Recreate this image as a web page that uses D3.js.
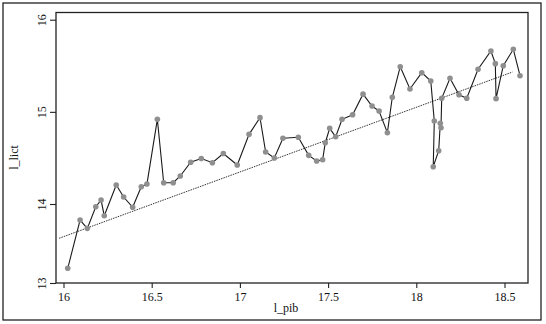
<!DOCTYPE html>
<html>
<head>
<meta charset="utf-8">
<script src="https://cdn.jsdelivr.net/npm/d3@7"></script>
<style>
  body { margin: 0; background: #fff; }
  text { font-family: "Liberation Serif", "DejaVu Serif", serif; fill: #111; }
</style>
</head>
<body>
<svg id="chart"></svg>
<script>
// l_pib / l_lict observations, in plot order
const pib = [16.024, 16.094, 16.135, 16.183, 16.213, 16.231, 16.299, 16.341, 16.392, 16.441,
    16.473, 16.532, 16.568, 16.622, 16.662, 16.721, 16.781, 16.844, 16.906, 16.985,
    17.052, 17.114, 17.146, 17.195, 17.244, 17.331, 17.390, 17.435, 17.469, 17.484,
    17.509, 17.543, 17.579, 17.639, 17.698, 17.749, 17.789, 17.836, 17.864, 17.909,
    17.964, 18.031, 18.082, 18.102, 18.096, 18.127, 18.136, 18.140, 18.144, 18.191,
    18.242, 18.286, 18.350, 18.423, 18.448, 18.452, 18.493, 18.550, 18.588];
const lict = [13.186, 13.797, 13.692, 13.966, 14.043, 13.852, 14.206, 14.076, 13.958, 14.188,
    14.217, 14.919, 14.231, 14.231, 14.304, 14.453, 14.494, 14.448, 14.548, 14.423,
    14.756, 14.937, 14.564, 14.499, 14.713, 14.724, 14.528, 14.467, 14.481, 14.665,
    14.821, 14.730, 14.919, 14.969, 15.192, 15.063, 15.009, 14.774, 15.158, 15.490,
    15.248, 15.425, 15.335, 14.901, 14.405, 14.578, 14.876, 14.828, 15.147, 15.364,
    15.186, 15.147, 15.462, 15.660, 15.523, 15.143, 15.501, 15.679, 15.392];

// linear fit (dotted line) end points
const fitX = [15.975, 18.545];
const fitY = [13.566, 15.432];

const xTicks = [16, 16.5, 17, 17.5, 18, 18.5];
const yTicks = [13, 14, 15, 16];

const width = 546, height = 324;
const plot = { left: 56, right: 528, top: 12.5, bottom: 283 };

const svg = d3.select("#chart")
    .attr("width", width)
    .attr("height", height);

// outer frame
svg.append("rect")
    .attr("x", 3).attr("y", 3)
    .attr("width", 538).attr("height", 317)
    .attr("fill", "none")
    .attr("stroke", "#222")
    .attr("stroke-width", 1.3);

const x = d3.scaleLinear()
    .domain([16, 18.5])
    .range([63.5, 504.5]);

// the y axis of the original is squeezed below 14
const y = d3.scaleLinear()
    .domain([13, 14, 16])
    .range([plot.bottom, 204, 19.7]);

// plot region box
svg.append("rect")
    .attr("x", plot.left).attr("y", plot.top)
    .attr("width", plot.right - plot.left)
    .attr("height", plot.bottom - plot.top)
    .attr("fill", "#fff")
    .attr("stroke", "#222")
    .attr("stroke-width", 1.3);

// axes
const xAxis = svg.append("g")
    .attr("transform", `translate(0,${plot.bottom})`)
    .call(d3.axisBottom(x).tickValues(xTicks).tickSize(5).tickPadding(4).tickFormat(d3.format("")));
xAxis.select(".domain").remove();
xAxis.selectAll("line").attr("stroke", "#222").attr("stroke-width", 1.1);
xAxis.selectAll("text")
    .attr("font-size", 12)
    .attr("font-family", "Liberation Serif, serif")
    .attr("fill", "#111");

const yAxis = svg.append("g")
    .attr("transform", `translate(${plot.left},0)`)
    .call(d3.axisLeft(y).tickValues(yTicks).tickSize(6).tickFormat(d3.format("")));
yAxis.select(".domain").remove();
yAxis.selectAll("line").attr("stroke", "#222").attr("stroke-width", 1.1);
yAxis.selectAll("text")
    .attr("x", null).attr("dy", null)
    .attr("text-anchor", "middle")
    .attr("transform", "translate(-10,0) rotate(-90)")
    .attr("font-size", 12)
    .attr("font-family", "Liberation Serif, serif")
    .attr("fill", "#111");

// axis titles
svg.append("text")
    .attr("x", 286).attr("y", 312)
    .attr("text-anchor", "middle")
    .attr("font-size", 12)
    .text("l_pib");

svg.append("text")
    .attr("transform", "translate(18,157.5) rotate(-90)")
    .attr("text-anchor", "middle")
    .attr("font-size", 12)
    .text("l_lict");

// fitted values, dotted
svg.append("line")
    .attr("x1", x(fitX[0])).attr("y1", y(fitY[0]))
    .attr("x2", x(fitX[1])).attr("y2", y(fitY[1]))
    .attr("stroke", "#333")
    .attr("stroke-width", 1)
    .attr("stroke-dasharray", "1.5,1");

// connected series
const pts = pib.map((v, i) => [v, lict[i]]);
const line = d3.line()
    .x(d => x(d[0]))
    .y(d => y(d[1]));

svg.append("path")
    .datum(pts)
    .attr("d", line)
    .attr("fill", "none")
    .attr("stroke", "#1a1a1a")
    .attr("stroke-width", 1.1);

svg.append("g")
    .selectAll("circle")
    .data(pts)
    .enter().append("circle")
    .attr("cx", d => x(d[0]))
    .attr("cy", d => y(d[1]))
    .attr("r", 2.8)
    .attr("fill", "#8f8f8f");
</script>
</body>
</html>
